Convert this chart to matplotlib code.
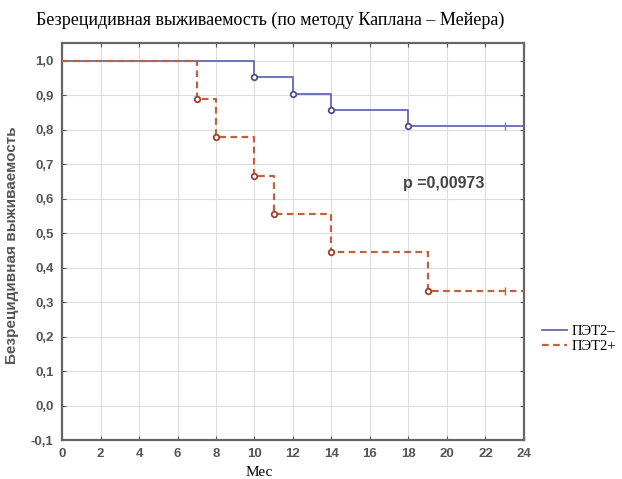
import matplotlib
matplotlib.use("Agg")
import matplotlib.pyplot as plt

# Data: PET2- (solid blue)
neg_times = [0, 10, 12, 14, 18, 24]
neg_surv = [1.0, 0.952, 0.905, 0.857, 0.810, 0.810]
neg_event_t = [10, 12, 14, 18]
neg_event_s = [0.952, 0.905, 0.857, 0.810]
neg_cens_t = [23]
neg_cens_s = [0.810]

# Data: PET2+ (dashed red)
pos_times = [0, 7, 8, 10, 11, 14, 19, 24]
pos_surv = [1.0, 0.889, 0.778, 0.667, 0.556, 0.444, 0.333, 0.333]
pos_event_t = [7, 8, 10, 11, 14, 19]
pos_event_s = [0.889, 0.778, 0.667, 0.556, 0.444, 0.333]
pos_cens_t = [23]
pos_cens_s = [0.333]

xticks = list(range(0, 25, 2))
yticks = [-0.1, 0.0, 0.1, 0.2, 0.3, 0.4, 0.5, 0.6, 0.7, 0.8, 0.9, 1.0]

blue = "#6468b8"
red = "#c0603c"

fig = plt.figure(figsize=(6.22, 4.79), dpi=100)
ax = fig.add_axes([0.0997, 0.0814, 0.7427, 0.829])

ax.step(neg_times, neg_surv, where="post", color=blue, lw=1.3, label="ПЭТ2–", zorder=3)
ax.plot(neg_event_t, neg_event_s, "o", mfc="white", mec="#4a4e90", ms=4, mew=1.3, zorder=4)
ax.plot(neg_cens_t, neg_cens_s, "|", color="#7a7ea8", ms=6, zorder=4)

ax.step(pos_times, pos_surv, where="post", color=red, lw=1.6, ls=(0, (3, 2)), label="ПЭТ2+", zorder=3)
ax.plot(pos_event_t, pos_event_s, "o", mfc="white", mec="#a0402c", ms=4, mew=1.3, zorder=4)
ax.plot(pos_cens_t, pos_cens_s, "|", color=red, ms=6, zorder=4)

ax.set_xlim(0, 24)
ax.set_ylim(-0.1, 1.052)
ax.set_xticks(xticks)
ax.set_yticks(yticks)
ax.set_xticklabels([str(t) for t in xticks])
ax.set_yticklabels([f"{v:.1f}".replace(".", ",") for v in yticks])
for lab in ax.get_xticklabels() + ax.get_yticklabels():
    lab.set_fontfamily("Liberation Sans")
    lab.set_fontweight("bold")
    lab.set_color("#555555")
    lab.set_fontsize(9.5)
ax.grid(True, color="#dddddd", lw=0.8)
ax.tick_params(direction="in", length=3, color="#555555", top=True, right=True, pad=6)
for s in ax.spines.values():
    s.set_color("#666666")
    s.set_linewidth(1.6)

ax.set_ylabel("Безрецидивная выживаемость", fontfamily="Liberation Sans", fontweight="bold",
              color="#555555", fontsize=11)
ax.yaxis.set_label_coords(-0.093, 0.49)
ax.set_xlabel("Мес", fontfamily="Liberation Serif", fontsize=11, va="bottom")
ax.xaxis.set_label_coords(0.427, -0.097)

ax.text(17.7, 0.643, "p =0,00973", fontfamily="Liberation Sans", fontweight="bold",
        color="#444444", fontsize=11.5, va="center")

fig.text(0.435, 0.958, "Безрецидивная выживаемость (по методу Каплана – Мейера)",
         fontfamily="Liberation Serif", fontsize=13, ha="center", va="center")

leg = fig.legend(loc="center left", bbox_to_anchor=(0.862, 0.292), frameon=False,
                 prop={"family": "Liberation Serif", "size": 10.5}, handlelength=1.7,
                 handletextpad=0.3, labelspacing=0.15, borderaxespad=0)

fig.savefig("out.png", dpi=100)
